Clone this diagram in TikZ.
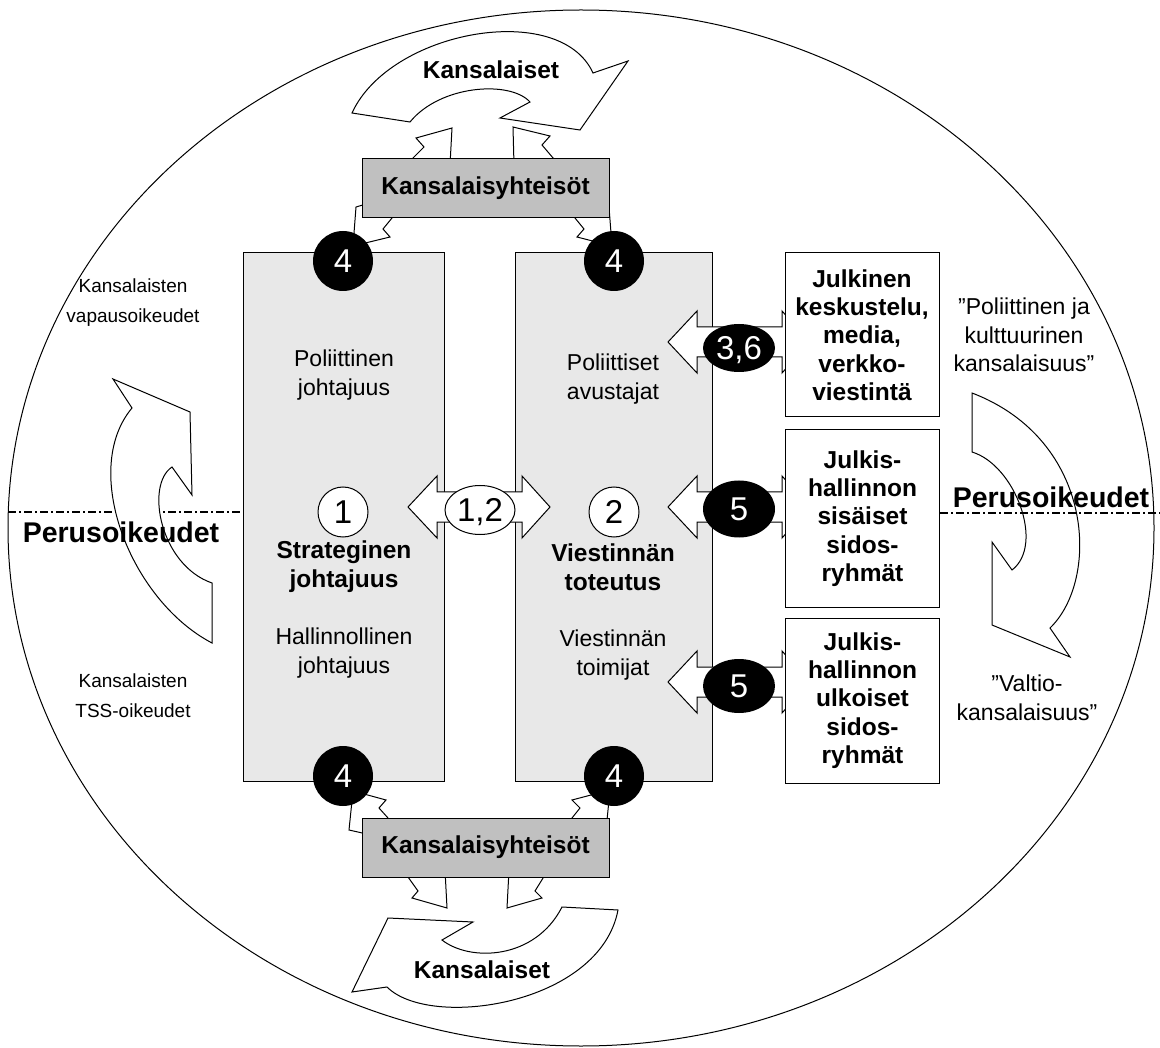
\documentclass[tikz,border=0pt]{standalone}
\usepackage{fontspec}
\setmainfont{Liberation Sans}
\usetikzlibrary{shapes.geometric}
\definecolor{lightbox}{HTML}{E8E8E8}
\definecolor{midbox}{HTML}{C0C0C0}
\newcommand{\myfs}[2]{\fontsize{#1}{#2}\selectfont}
\newcommand{\mydblarrow}[5]{%
  \draw[blockarr] (#1,#5) -- (#2,#5-31) -- (#2,#5-15) -- (#3,#5-15) -- (#3,#5-31) -- (#4,#5)
     -- (#3,#5+31) -- (#3,#5+15) -- (#2,#5+15) -- (#2,#5+31) -- cycle;}
\begin{document}
\begin{tikzpicture}[x=1pt,y=-1pt,
  ol/.style={draw=black, line width=1pt, line join=miter},
  blockarr/.style={ol, fill=white},
  dashdotline/.style={line width=1.6pt, dash pattern=on 8pt off 3pt on 2pt off 3pt},
  bigbox/.style={draw, line width=1pt, fill=lightbox, inner sep=0},
  kybox/.style={draw, line width=1pt, fill=midbox, inner sep=0, minimum width=247pt, minimum height=59pt,
                font=\myfs{24.5}{28}\bfseries},
  whbox/.style={draw, line width=1pt, fill=white, inner sep=0, minimum width=154pt, align=center,
                font=\myfs{24.5}{28.3}\bfseries},
  txt/.style={align=center, font=\myfs{23}{28.5}},
  ltxt/.style={align=center, font=\myfs{19}{30}},
  btxt/.style={align=center, font=\myfs{24.5}{29}\bfseries},
  pertxt/.style={font=\myfs{28.5}{32}\bfseries},
  numfont/.style={font=\myfs{33}{36}, text height=23.6pt, text depth=0pt},
  blackc/.style={circle, fill=black, text=white, minimum size=60pt, inner sep=0, numfont},
  whitec/.style={circle, draw, line width=1pt, fill=white, minimum size=50pt, inner sep=0, numfont},
  blacke/.style={ellipse, fill=black, text=white, minimum width=72pt, inner sep=0, numfont},
  whitee/.style={ellipse, draw, line width=1pt, fill=white, minimum width=70pt, inner sep=0, numfont}
]
\useasboundingbox (0,0) rectangle (1160,1048);
% outer ellipse
\draw[line width=1pt] (581,528) ellipse [x radius=573, y radius=518];

% dash-dot lines
\coordinate (dl1) at (8,512);
\coordinate (dl2) at (243,512);
\coordinate (dr1) at (940,513);
\coordinate (dr2) at (1160,513);
\draw[dashdotline] (dl1) -- (dl2);
\draw[dashdotline] (dr1) -- (dr2);

% left curved arrow
\draw[blockarr] (113,379) -- (190,412) -- (192,495) -- (172,467)
   .. controls (145,485) and (160,565) .. (212,583) -- (212,643)
   .. controls (130,600) and (80,470) .. (132,408) -- cycle;
% right curved arrow
\draw[ol] (972,393) -- (972,452) .. controls (1015,465) and (1045,545) .. (1012,570)
   -- (992,542) -- (992,625) -- (1070,657) -- (1050,628)
   .. controls (1100,580) and (1095,440) .. (972,393) -- cycle;
% top curved arrow
\draw[blockarr] (352,113) .. controls (390,30) and (560,0) .. (593,73) -- (628,61) -- (580,130)
   -- (500,118) -- (530,102) .. controls (510,80) and (440,85) .. (410,122) -- cycle;
% bottom curved arrow
\draw[blockarr] (618,910) .. controls (600,1005) and (430,1030) .. (387,987) -- (352,992) -- (388,918)
   -- (473,922) -- (442,940) .. controls (470,962) and (535,960) .. (562,907) -- cycle;

% big grey boxes
\node[bigbox, minimum width=201pt, minimum height=528pt] (lbox) at (344,517) {};
\node[bigbox, minimum width=197pt, minimum height=528pt] (rbox) at (613.5,517) {};

% small arrows (behind the Kansalaisyhteisot boxes)
\draw[blockarr] (406,165) -- (424,147) -- (416,138) -- (452,128) -- (450,165) -- cycle;
\draw[blockarr] (514,165) -- (513,127) -- (550,136) -- (542,145) -- (559,165) -- cycle;
\draw[blockarr] (392,218) -- (383,229) -- (390,237) -- (353,246) -- (356,207) -- (380,200) -- cycle;
\draw[blockarr] (575,218) -- (584,229) -- (577,237) -- (612,246) -- (609,207) -- (590,200) -- cycle;
\draw[blockarr] (388,818) -- (379,808) -- (386,800) -- (353,791) -- (349,830) -- (380,837) -- cycle;
\draw[blockarr] (572,818) -- (580,808) -- (572,800) -- (610,790) -- (606,830) -- (590,837) -- cycle;
\draw[blockarr] (403,870) -- (418,891) -- (412,898) -- (447,908) -- (445,870) -- cycle;
\draw[blockarr] (548,870) -- (535,891) -- (542,898) -- (507,908) -- (509,870) -- cycle;

% Kansalaisyhteisot boxes
\node[kybox] (kyt) at (485.5,188.5) {Kansalaisyhteisöt};
\node[kybox] (kyb) at (485.5,847.5) {Kansalaisyhteisöt};

% black circles 4
\node[blackc] (c4a) at (343,261) {4};
\node[blackc] (c4b) at (614,261) {4};
\node[blackc] (c4c) at (343,776) {4};
\node[blackc] (c4d) at (614,776) {4};

% white circles 1, 2
\node[whitec] (c1) at (343,512) {1};
\node[whitec] (c2) at (614,512) {2};

% double arrows
\mydblarrow{408}{437}{522}{550}{507}
\mydblarrow{668}{697}{782}{810}{342}
\mydblarrow{668}{697}{782}{810}{507}
\mydblarrow{668}{697}{782}{810}{682}
\node[whitee, minimum height=49pt] (e12) at (480,510) {1,2};
\node[blacke, minimum height=48pt] (e36) at (739,348) {3,6};
\node[blacke, minimum height=57pt] (e5a) at (739,509) {5};
\node[blacke, minimum height=54pt] (e5b) at (739,686) {5};

% white boxes
\node[whbox, minimum height=164pt] (wb1) at (862,335) {Julkinen\\keskustelu,\\media,\\verkko-\\viestintä};
\node[whbox, minimum height=177pt] (wb2) at (862.5,518.5) {Julkis-\\hallinnon\\sisäiset\\sidos-\\ryhmät};
\node[whbox, minimum height=165pt] (wb3) at (862.5,700.5) {Julkis-\\hallinnon\\ulkoiset\\sidos-\\ryhmät};

% texts
\node[btxt] (kt) at (491,70) {Kansalaiset};
\node[btxt] (kb) at (482,970) {Kansalaiset};
\node[pertxt] (perl) at (121,532) {Perusoikeudet};
\node[pertxt] (perr) at (1051,497) {Perusoikeudet};
\node[ltxt] (vap) at (133,303) {Kansalaisten\\vapausoikeudet};
\node[ltxt] (tss) at (133,696) {Kansalaisten\\TSS-oikeudet};
\node[txt] (polj) at (344,375) {Poliittinen\\johtajuus};
\node[btxt] (strj) at (344,567) {Strateginen\\johtajuus};
\node[txt] (halj) at (344,653) {Hallinnollinen\\johtajuus};
\node[txt] (pola) at (613,379) {Poliittiset\\avustajat};
\node[btxt] (viet) at (613,567) {Viestinnän\\toteutus};
\node[txt] (viem) at (613,655) {Viestinnän\\toimijat};
\node[txt] (polk) at (1024,335) {”Poliittinen ja\\kulttuurinen\\kansalaisuus”};
\node[txt] (valt) at (1027,698) {”Valtio-\\kansalaisuus”};
\end{tikzpicture}
\end{document}
